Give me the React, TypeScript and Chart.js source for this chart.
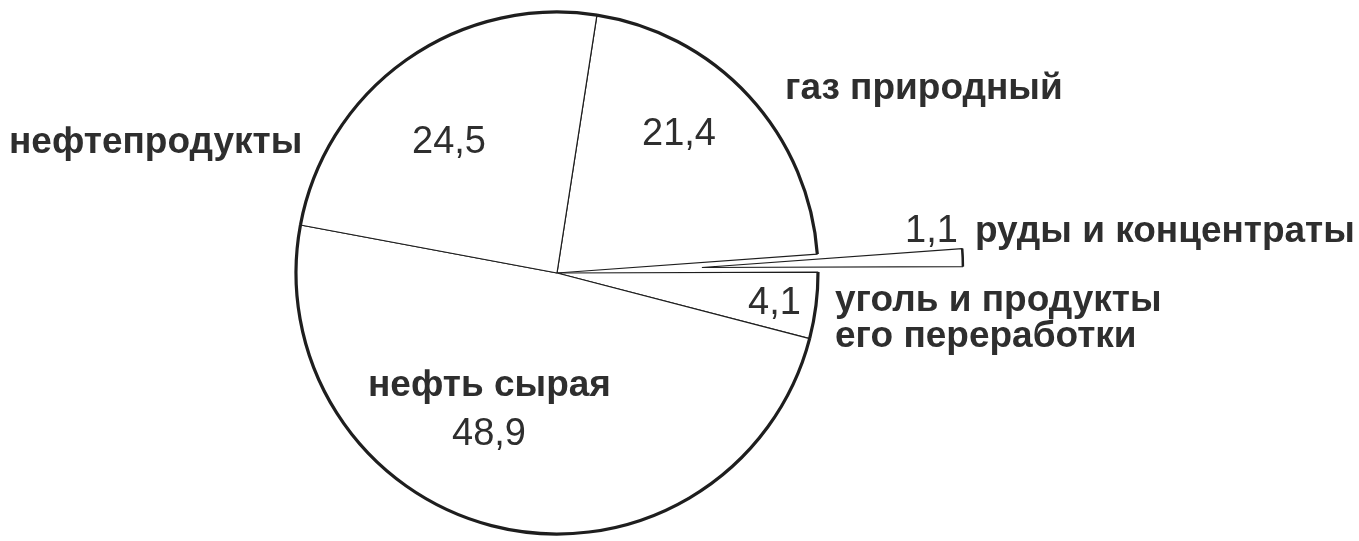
import React, { useEffect, useRef } from "react";
import { Chart, registerables } from "chart.js";

Chart.register(...registerables);

// Data (clockwise from the top boundary)
const categories = [
  "газ природный",
  "руды и концентраты",
  "уголь и продукты его переработки",
  "нефть сырая",
  "нефтепродукты",
];
const shares = [21.4, 1.1, 4.1, 48.9, 24.5];
const explodedIndex = 1;

// Label layout (text only; slices come from the library)
const nameLines: string[][] = [
  ["газ природный"],
  ["руды и концентраты"],
  ["уголь и продукты", "его переработки"],
  ["нефть сырая"],
  ["нефтепродукты"],
];
const namePos: [number, number][] = [
  [785, 99],
  [975, 242],
  [835, 311],
  [368, 396],
  [9, 153],
];
const valuePos: [number, number][] = [
  [642, 145],
  [905, 242],
  [748, 314],
  [452, 445],
  [412, 153],
];

const TEXT = "#2e2e2e";
const LINE = "#1e1e1e";
const EXPLODE = 145;

const fmt = (v: number) => v.toFixed(1).replace(".", ",");

// Pull the exploded slice straight out along its mid-angle (pure translation)
const explodePlugin = {
  id: "explodeSlice",
  afterDatasetsUpdate(chart: any) {
    const meta = chart.getDatasetMeta(0);
    const arc = meta.data[explodedIndex];
    if (!arc) return;
    const half = (arc.startAngle + arc.endAngle) / 2;
    arc.x += Math.cos(half) * EXPLODE;
    arc.y += Math.sin(half) * EXPLODE;
  },
};

const labelPlugin = {
  id: "pieLabels",
  afterDatasetsDraw(chart: any) {
    const ctx = chart.ctx;
    const meta = chart.getDatasetMeta(0);
    ctx.save();
    // thick outer rim
    meta.data.forEach((arc: any, i: number) => {
      ctx.beginPath();
      ctx.arc(arc.x, arc.y, arc.outerRadius, arc.startAngle, arc.endAngle);
      ctx.lineWidth = i === explodedIndex ? 2.5 : 3.2;
      ctx.strokeStyle = LINE;
      ctx.stroke();
    });
    ctx.fillStyle = TEXT;
    ctx.textBaseline = "alphabetic";
    ctx.textAlign = "left";
    shares.forEach((v, i) => {
      ctx.font = "38px 'Liberation Sans', Arial, sans-serif";
      ctx.fillText(fmt(v), valuePos[i][0], valuePos[i][1]);
      ctx.font = "bold 37px 'Liberation Sans', Arial, sans-serif";
      nameLines[i].forEach((line, k) => {
        ctx.fillText(line, namePos[i][0], namePos[i][1] + k * 36);
      });
    });
    ctx.restore();
  },
};

export default function App() {
  const ref = useRef<HTMLCanvasElement | null>(null);
  useEffect(() => {
    if (!ref.current) return;
    const chart = new Chart(ref.current, {
      type: "pie",
      data: {
        labels: categories,
        datasets: [
          {
            data: shares,
            backgroundColor: "#ffffff",
            borderColor: LINE,
            borderWidth: 1.2,
            clip: false,
          } as any,
        ],
      },
      options: {
        responsive: false,
        animation: false,
        rotation: 8.8,
        radius: 261,
        layout: { padding: { left: 0, right: 245, top: 5, bottom: 0 } },
        plugins: {
          legend: { display: false },
          tooltip: { enabled: false },
        },
        events: [],
      } as any,
      plugins: [explodePlugin, labelPlugin],
    });
    return () => chart.destroy();
  }, []);
  return (
    <div style={{ position: "fixed", left: 0, top: 0, width: 1359, height: 541, background: "#fff" }}>
      <canvas ref={ref} width={1359} height={541} style={{ width: 1359, height: 541 }} />
    </div>
  );
}
